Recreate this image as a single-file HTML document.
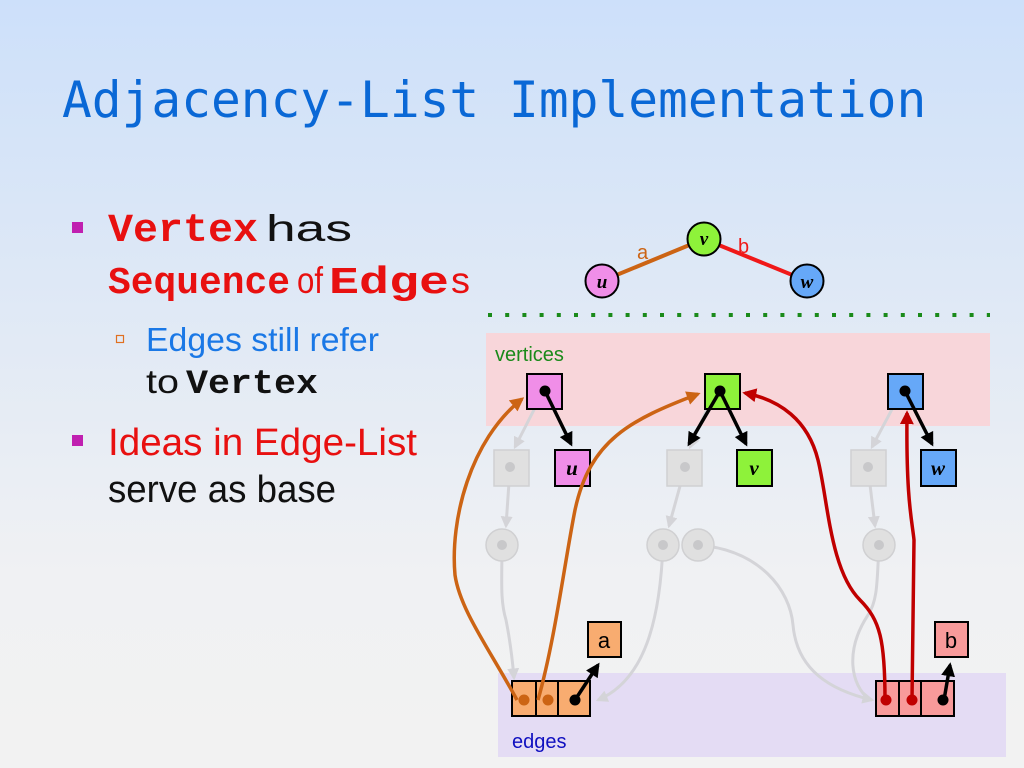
<!DOCTYPE html>
<html><head><meta charset="utf-8"><style>
html,body{margin:0;padding:0}
body{width:1024px;height:768px;overflow:hidden;background:linear-gradient(180deg,#cde0fa 0%,#e2eaf5 45%,#f0f1f3 75%,#f2f2f2 100%);position:relative;font-family:"Liberation Sans",sans-serif}
</style></head><body>
<svg width="1024" height="768" viewBox="0 0 1024 768" xmlns="http://www.w3.org/2000/svg" style="position:absolute;left:0;top:0">
<defs>
<marker id="ab" viewBox="0 0 10 10" refX="8" refY="5" markerWidth="4" markerHeight="4" orient="auto"><path d="M0,0 L10,5 L0,10 z" fill="#000"/></marker>
<marker id="ao" viewBox="0 0 10 10" refX="8" refY="5" markerWidth="4" markerHeight="4" orient="auto"><path d="M0,0 L10,5 L0,10 z" fill="#cc6414"/></marker>
<marker id="ar" viewBox="0 0 10 10" refX="8" refY="5" markerWidth="4" markerHeight="4" orient="auto"><path d="M0,0 L10,5 L0,10 z" fill="#c00000"/></marker>
<marker id="ag" viewBox="0 0 10 10" refX="8" refY="5" markerWidth="4" markerHeight="4" orient="auto"><path d="M0,0 L10,5 L0,10 z" fill="#d4d4d8"/></marker>
</defs>

<text x="62" y="117" font-family="DejaVu Sans Mono, Liberation Mono, monospace" font-size="49.5" fill="#0a68d6">Adjacency-List Implementation</text>

<!-- bullets -->
<rect x="72" y="222" width="11" height="11" fill="#c020b0"/>
<text x="108" y="241" font-family="Liberation Mono, monospace" font-weight="bold" font-size="40" fill="#e81010" textLength="150" lengthAdjust="spacingAndGlyphs">Vertex</text>
<text x="266" y="241" font-size="37" fill="#111" textLength="86" lengthAdjust="spacingAndGlyphs">has</text>
<text x="108" y="293" font-family="Liberation Mono, monospace" font-weight="bold" font-size="38" fill="#e81010" textLength="182" lengthAdjust="spacingAndGlyphs">Sequence</text>
<text x="297" y="293" font-size="37" fill="#e81010" textLength="26" lengthAdjust="spacingAndGlyphs">of</text>
<text x="329" y="293" font-family="Liberation Mono, monospace" font-weight="bold" font-size="38" fill="#e81010" textLength="120" lengthAdjust="spacingAndGlyphs">Edge</text>
<text x="451" y="293" font-size="37" fill="#e81010" textLength="19" lengthAdjust="spacingAndGlyphs">s</text>
<rect x="116.5" y="335.5" width="7" height="7" fill="none" stroke="#e07020" stroke-width="1.2"/>
<text x="146" y="351" font-size="33" fill="#1a78e6" textLength="233" lengthAdjust="spacingAndGlyphs">Edges still refer</text>
<text x="146" y="393" font-size="33" fill="#111" textLength="33" lengthAdjust="spacingAndGlyphs">to</text>
<text x="186" y="393" font-family="Liberation Mono, monospace" font-weight="bold" font-size="34" fill="#111" textLength="132" lengthAdjust="spacingAndGlyphs">Vertex</text>
<rect x="72" y="435" width="11" height="11" fill="#c020b0"/>
<text x="108" y="455" font-size="38" fill="#e81010" textLength="309" lengthAdjust="spacingAndGlyphs">Ideas in Edge-List</text>
<text x="108" y="502" font-size="38" fill="#111" textLength="228" lengthAdjust="spacingAndGlyphs">serve as base</text>

<!-- top graph -->
<line x1="602" y1="281" x2="704" y2="239" stroke="#cc6414" stroke-width="4"/>
<line x1="704" y1="239" x2="807" y2="281" stroke="#f01818" stroke-width="4"/>
<text x="637" y="259" font-size="20" fill="#cc6414">a</text>
<text x="738" y="253" font-size="20" fill="#f01818">b</text>
<circle cx="602" cy="281" r="16.5" fill="#f08ee8" stroke="#000" stroke-width="2"/>
<circle cx="704" cy="239" r="16.5" fill="#8ef23a" stroke="#000" stroke-width="2"/>
<circle cx="807" cy="281" r="16.5" fill="#66a8f8" stroke="#000" stroke-width="2"/>
<g font-family="Liberation Serif, serif" font-style="italic" font-weight="bold" font-size="19" text-anchor="middle" fill="#000">
<text x="602" y="288">u</text><text x="704" y="245">v</text><text x="807" y="288">w</text></g>
<line x1="488" y1="315" x2="990" y2="315" stroke="#1a8a1a" stroke-width="4" stroke-dasharray="4,13.2"/>

<!-- regions -->
<rect x="486" y="333" width="504" height="93" fill="#f8d6da"/>
<text x="495" y="361" font-size="20" fill="#1a8a1a">vertices</text>
<rect x="498" y="673" width="508" height="84" fill="#e4dcf4"/>
<text x="512" y="748" font-size="20" fill="#1010c0">edges</text>

<!-- gray structures -->
<g stroke="#d4d4d8" stroke-width="3" fill="none">
<line x1="540" y1="398" x2="515" y2="447" marker-end="url(#ag)"/>
<line x1="712" y1="398" x2="690" y2="447" marker-end="url(#ag)"/>
<line x1="898" y1="398" x2="872" y2="447" marker-end="url(#ag)"/>
<line x1="510" y1="468" x2="506" y2="526" marker-end="url(#ag)"/>
<line x1="685" y1="468" x2="669" y2="526" marker-end="url(#ag)"/>
<line x1="868" y1="468" x2="875" y2="526" marker-end="url(#ag)"/>
<path d="M502,545 C502,580 500,600 506,620 C510,640 512,655 514,678" marker-end="url(#ag)"/>
<path d="M663,545 C660,620 645,680 598,700" marker-end="url(#ag)"/>
<path d="M698,545 C760,550 790,590 793,625 C797,670 830,690 872,700" marker-end="url(#ag)"/>
<path d="M879,545 C877,580 878,600 868,615 C845,650 850,685 870,700"/>
</g>
<g fill="#e0e0e0" stroke="#d0d0d2" stroke-width="1.5">
<rect x="494" y="450" width="35" height="36"/><rect x="667" y="450" width="35" height="36"/><rect x="851" y="450" width="35" height="36"/>
<circle cx="502" cy="545" r="16"/><circle cx="663" cy="545" r="16"/><circle cx="698" cy="545" r="16"/><circle cx="879" cy="545" r="16"/>
</g>
<g fill="#c8c8ca">
<circle cx="510" cy="467" r="5"/><circle cx="685" cy="467" r="5"/><circle cx="868" cy="467" r="5"/>
<circle cx="502" cy="545" r="5"/><circle cx="663" cy="545" r="5"/><circle cx="698" cy="545" r="5"/><circle cx="879" cy="545" r="5"/>
</g>

<!-- vertex boxes -->
<g stroke="#000" stroke-width="2">
<rect x="527" y="374" width="35" height="35" fill="#f08ee8"/>
<rect x="705" y="374" width="35" height="35" fill="#8ef23a"/>
<rect x="888" y="374" width="35" height="35" fill="#66a8f8"/>
<rect x="555" y="450" width="35" height="36" fill="#f08ee8"/>
<rect x="737" y="450" width="35" height="36" fill="#8ef23a"/>
<rect x="921" y="450" width="35" height="36" fill="#66a8f8"/>
<rect x="588" y="622" width="33" height="35" fill="#f8ac70"/>
<rect x="935" y="622" width="33" height="35" fill="#f89a9a"/>
<rect x="512" y="681" width="24" height="35" fill="#f8ac70"/>
<rect x="536" y="681" width="22" height="35" fill="#f8ac70"/>
<rect x="558" y="681" width="32" height="35" fill="#f8ac70"/>
<rect x="876" y="681" width="23" height="35" fill="#f89a9a"/>
<rect x="899" y="681" width="22" height="35" fill="#f89a9a"/>
<rect x="921" y="681" width="33" height="35" fill="#f89a9a"/>
</g>
<g font-family="Liberation Serif, serif" font-style="italic" font-weight="bold" font-size="21" text-anchor="middle" fill="#000">
<text x="572" y="475">u</text><text x="754" y="475">v</text><text x="938" y="475">w</text></g>
<text x="604" y="648" font-size="22" text-anchor="middle" fill="#000">a</text>
<text x="951" y="648" font-size="22" text-anchor="middle" fill="#000">b</text>

<!-- colored curves -->
<g fill="none" stroke-width="3.5">
<path d="M517,700 C490,650 460,610 455,575 C450,520 470,440 522,399" stroke="#cc6414" marker-end="url(#ao)"/>
<path d="M538,700 C555,640 565,560 575,510 C590,440 630,420 698,394" stroke="#cc6414" marker-end="url(#ao)"/>
<path d="M885,700 C885,640 880,620 860,600 C830,570 828,500 818,460 C808,420 780,400 745,393" stroke="#c00000" marker-end="url(#ar)"/>
<path d="M912,700 L914,540 C912,520 906,500 907,413" stroke="#c00000" marker-end="url(#ar)"/>
</g>
<g fill="#cc6414"><circle cx="524" cy="700" r="5.5"/><circle cx="548" cy="700" r="5.5"/></g>
<g fill="#c00000"><circle cx="886" cy="700" r="5.5"/><circle cx="912" cy="700" r="5.5"/></g>

<!-- black pointers -->
<g stroke="#000" stroke-width="3.5" fill="none">
<line x1="545" y1="391" x2="571" y2="444" marker-end="url(#ab)"/>
<line x1="720" y1="391" x2="689" y2="444" marker-end="url(#ab)"/>
<line x1="720" y1="391" x2="746" y2="444" marker-end="url(#ab)"/>
<line x1="905" y1="391" x2="932" y2="444" marker-end="url(#ab)"/>
<line x1="575" y1="700" x2="598" y2="665" marker-end="url(#ab)"/>
<line x1="944" y1="700" x2="950" y2="665" marker-end="url(#ab)"/>
</g>
<g fill="#000">
<circle cx="545" cy="391" r="5.5"/><circle cx="720" cy="391" r="5.5"/><circle cx="905" cy="391" r="5.5"/>
<circle cx="575" cy="700" r="5.5"/><circle cx="943" cy="700" r="5.5"/>
</g>
</svg>
</body></html>
